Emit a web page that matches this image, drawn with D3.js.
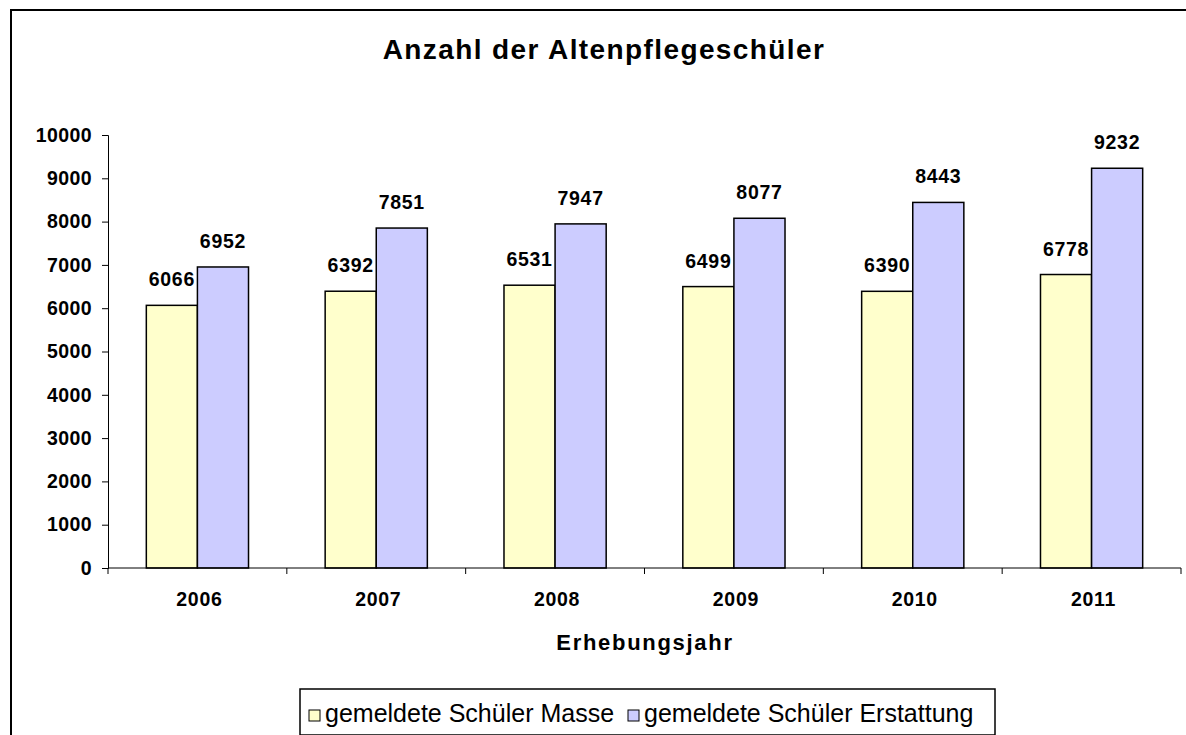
<!DOCTYPE html>
<html>
<head>
<meta charset="utf-8">
<script src="https://cdn.jsdelivr.net/npm/d3@7"></script>
<style>
  body { margin: 0; background: #fff; }
  text { font-family: "Liberation Sans", Arial, sans-serif; }
</style>
</head>
<body>
<div id="chart"></div>
<script>
// chart data
var years = ["2006", "2007", "2008", "2009", "2010", "2011"];
var masse = [6066, 6392, 6531, 6499, 6390, 6778];
var erstattung = [6952, 7851, 7947, 8077, 8443, 9232];
var seriesNames = ["gemeldete Schüler Masse", "gemeldete Schüler Erstattung"];
var yTicks = [0, 1000, 2000, 3000, 4000, 5000, 6000, 7000, 8000, 9000, 10000];

var width = 1186, height = 735;
var margin = { top: 135, bottom: 167, left: 108, right: 5 };
var colors = ["#FFFFCC", "#CCCCFF"];

var svg = d3.select("#chart")
    .append("svg")
    .attr("width", width)
    .attr("height", height);

// outer frame (cut off on right and bottom like the original)
svg.append("rect")
    .attr("x", 11).attr("y", 10)
    .attr("width", 1200).attr("height", 760)
    .attr("fill", "none")
    .attr("stroke", "#000")
    .attr("stroke-width", 2);

var x = d3.scaleBand()
    .domain(years)
    .range([margin.left, width - margin.right]);

var x1 = d3.scaleBand()
    .domain([0, 1])
    .range([0, x.bandwidth()])
    .paddingOuter(0.75)
    .paddingInner(0);

var y = d3.scaleLinear()
    .domain([0, 10000])
    .range([height - margin.bottom, margin.top]);

var data = years.map(function (yr, i) {
    return { year: yr, values: [masse[i], erstattung[i]] };
});

var groups = svg.append("g")
    .selectAll("g")
    .data(data)
    .join("g")
    .attr("transform", d => "translate(" + x(d.year) + ",0)");

groups.selectAll("rect")
    .data(d => d.values.map((v, k) => ({ k: k, v: v })))
    .join("rect")
    .attr("x", d => x1(d.k))
    .attr("y", d => y(d.v))
    .attr("width", x1.bandwidth())
    .attr("height", d => y(0) - y(d.v))
    .attr("fill", d => colors[d.k])
    .attr("stroke", "#000")
    .attr("stroke-width", 1.5);

groups.selectAll("text")
    .data(d => d.values.map((v, k) => ({ k: k, v: v })))
    .join("text")
    .attr("x", d => x1(d.k) + x1.bandwidth() / 2)
    .attr("y", d => y(d.v) - 19)
    .attr("text-anchor", "middle")
    .style("font-size", "19.5px")
    .style("font-weight", "bold")
    .style("letter-spacing", "0.7px")
    .text(d => d.v);

// y axis
var yAxis = svg.append("g")
    .attr("transform", "translate(" + margin.left + ",0)")
    .call(d3.axisLeft(y).tickValues(yTicks).tickSize(6).tickPadding(10).tickFormat(d3.format("d")));
yAxis.selectAll("text")
    .style("font-size", "19.5px")
    .style("font-weight", "bold")
    .style("letter-spacing", "0.4px")
    .attr("fill", "#000");
yAxis.select(".domain").attr("stroke-width", 1);

// x axis: ticks at category boundaries
var xAxis = svg.append("g")
    .attr("transform", "translate(0," + y(0) + ")");
xAxis.append("line")
    .attr("x1", margin.left).attr("x2", width - margin.right)
    .attr("stroke", "#000");
xAxis.selectAll("line.tick")
    .data(years.concat(["end"]))
    .join("line")
    .attr("class", "tick")
    .attr("x1", (d, i) => margin.left + i * x.step())
    .attr("x2", (d, i) => margin.left + i * x.step())
    .attr("y1", 0).attr("y2", 6)
    .attr("stroke", "#000");
xAxis.selectAll("text")
    .data(years)
    .join("text")
    .attr("x", d => x(d) + x.bandwidth() / 2 + 2)
    .attr("y", 38)
    .attr("text-anchor", "middle")
    .style("font-size", "19.5px")
    .style("font-weight", "bold")
    .style("letter-spacing", "0.7px")
    .text(d => d);

// titles
svg.append("text")
    .attr("x", 604).attr("y", 59)
    .attr("text-anchor", "middle")
    .style("font-size", "28px")
    .style("font-weight", "bold")
    .style("letter-spacing", "1.4px")
    .text("Anzahl der Altenpflegeschüler");

svg.append("text")
    .attr("x", 645).attr("y", 650)
    .attr("text-anchor", "middle")
    .style("font-size", "22px")
    .style("font-weight", "bold")
    .style("letter-spacing", "1.7px")
    .text("Erhebungsjahr");

// legend
var legend = svg.append("g");
legend.append("rect")
    .attr("x", 300).attr("y", 689)
    .attr("width", 695).attr("height", 46)
    .attr("fill", "#fff")
    .attr("stroke", "#000")
    .attr("stroke-width", 1.5);

var legendX = [309, 628];
seriesNames.forEach(function (name, i) {
    legend.append("rect")
        .attr("x", legendX[i]).attr("y", 710)
        .attr("width", 11).attr("height", 11)
        .attr("fill", colors[i])
        .attr("stroke", "#000");
    legend.append("text")
        .attr("x", legendX[i] + 16).attr("y", 722)
        .style("font-size", "25px")
        .text(name);
});
</script>
</body>
</html>
